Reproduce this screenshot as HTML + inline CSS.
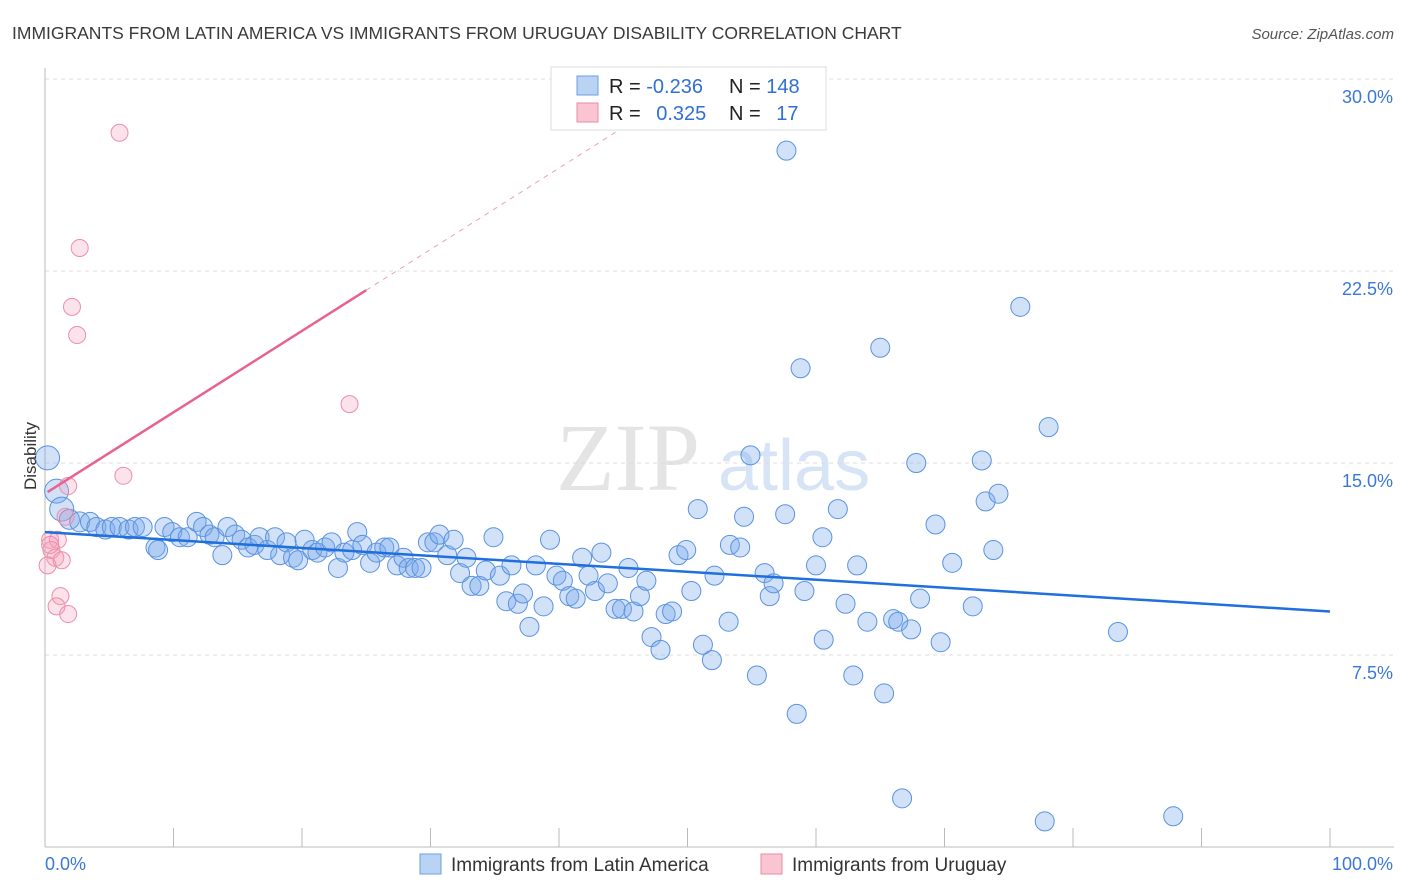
<!DOCTYPE html>
<html><head><meta charset="utf-8"><style>
body{margin:0;background:#fff;font-family:"Liberation Sans",sans-serif;}
svg{display:block}
</style></head><body>
<svg id="chart" width="1406" height="892" xmlns="http://www.w3.org/2000/svg">
<text x="12" y="39" font-size="17.5" fill="#3a3a3a">IMMIGRANTS FROM LATIN AMERICA VS IMMIGRANTS FROM URUGUAY DISABILITY CORRELATION CHART</text>
<text x="1394" y="39" font-size="15" fill="#555" font-style="italic" text-anchor="end">Source: ZipAtlas.com</text>
<text x="700" y="490" font-size="96" fill="#e4e4e4" font-family="Liberation Serif,serif" text-anchor="end">ZIP</text>
<text x="718" y="490" font-size="72" fill="#d6e4f5">atlas</text>
<g id="grid"></g><g id="axes"></g><g id="pts"></g><g id="lines"></g>
<text x="36" y="456" font-size="17" fill="#333" text-anchor="middle" transform="rotate(-90 36 456)">Disability</text>
<g>
<rect x="551" y="67" width="275" height="63" fill="#fff" stroke="#ddd"/>
<rect x="577" y="76" width="21" height="19" fill="#b9d3f5" stroke="#6a9fe0"/>
<rect x="577" y="103" width="21" height="19" fill="#f9c5d3" stroke="#e88aa5"/>
<text x="609" y="93" font-size="20" fill="#222">R = <tspan fill="#2f6fd6">-0.236</tspan></text>
<text x="729" y="93" font-size="20" fill="#222">N = <tspan fill="#2f6fd6">148</tspan></text>
<text x="609" y="120" font-size="20" fill="#222">R = <tspan fill="#2f6fd6" dx="10">0.325</tspan></text>
<text x="729" y="120" font-size="20" fill="#222">N = <tspan fill="#2f6fd6" dx="10">17</tspan></text>
</g>
<g>
<rect x="420" y="854" width="21" height="20" fill="#b9d3f5" stroke="#6a9fe0"/>
<text x="451" y="871" font-size="19" fill="#333">Immigrants from Latin America</text>
<rect x="761" y="854" width="21" height="20" fill="#f9c5d3" stroke="#e88aa5"/>
<text x="792" y="871" font-size="19" fill="#333">Immigrants from Uruguay</text>
</g>
</svg>
<script>
const blueX=[0.2,0.9,1.3,1.9,2.7,3.5,4.0,4.7,5.2,5.8,6.5,7.0,7.6,8.6,8.8,9.3,9.9,10.5,11.1,11.8,12.3,12.8,13.2,13.8,14.2,14.8,15.3,15.8,16.3,16.7,17.3,17.9,18.3,18.8,19.3,19.7,20.2,20.8,21.2,21.8,22.3,22.8,23.3,23.9,24.3,24.7,25.3,25.8,26.4,26.8,27.4,27.9,28.3,28.8,29.3,29.8,30.3,30.7,31.3,31.8,32.3,32.8,33.2,33.8,34.3,34.9,35.4,35.9,36.3,36.8,37.2,37.7,38.2,38.8,39.3,39.8,40.3,40.8,41.3,41.8,42.3,42.8,43.3,43.8,44.4,44.9,45.4,45.8,46.3,46.8,47.2,47.9,48.3,48.8,49.3,49.9,50.3,50.8,51.2,51.9,52.1,53.2,53.3,54.1,54.4,54.9,55.4,56.0,56.4,56.7,57.6,58.5,58.8,59.1,60.0,60.5,60.6,61.7,62.3,62.9,63.2,64.0,65.0,65.3,66.0,66.4,66.7,67.4,67.8,68.1,69.3,69.7,70.6,72.2,72.9,73.2,73.8,74.2,75.9,77.8,78.1,83.5,87.8,57.7];
const blueY=[15.2,13.9,13.2,12.8,12.7,12.7,12.5,12.4,12.5,12.5,12.4,12.5,12.5,11.7,11.6,12.5,12.3,12.1,12.1,12.7,12.5,12.2,12.1,11.4,12.5,12.2,12.0,11.7,11.8,12.1,11.6,12.1,11.4,11.9,11.3,11.2,12.0,11.6,11.5,11.7,11.9,10.9,11.5,11.6,12.3,11.8,11.1,11.5,11.7,11.7,11.0,11.3,10.9,10.9,10.9,11.9,11.9,12.2,11.4,12.0,10.7,11.3,10.2,10.2,10.8,12.1,10.6,9.6,11.0,9.5,9.9,8.6,11.0,9.4,12.0,10.6,10.4,9.8,9.7,11.3,10.6,10.0,11.5,10.3,9.3,9.3,10.9,9.2,9.8,10.4,8.2,7.7,9.1,9.2,11.4,11.6,10.0,13.2,7.9,7.3,10.6,8.8,11.8,11.7,12.9,15.3,6.7,10.7,9.8,10.3,13.0,5.2,18.7,10.0,11.0,12.1,8.1,13.2,9.5,6.7,11.0,8.8,19.5,6.0,8.9,8.8,1.9,8.5,15.0,9.7,12.6,8.0,11.1,9.4,15.1,13.5,11.6,13.8,21.1,1.0,16.4,8.4,1.2,27.2];
const pinkX=[5.8,2.7,2.1,2.5,23.7,6.1,1.8,1.6,0.4,1.0,0.5,0.8,0.2,1.3,1.2,0.9,1.8,0.4];
const pinkY=[27.9,23.4,21.1,20.0,17.3,14.5,14.1,12.9,12.0,12.0,11.6,11.3,11.0,11.2,9.8,9.4,9.1,11.8];
const blueTrend=[12.3,9.2];        // y at x=0 and x=100
const pinkTrend=[13.8,0.318];      // intercept, slope
const yTicks=[7.5,15,22.5,30];
const yTickLabels=["7.5%","15.0%","22.5%","30.0%"];
const xTicks=[0,10,20,30,40,50,60,70,80,90,100];
const X0=45,X1=1330,Y0=847,YPX=25.6;
function sx(v){return X0+(X1-X0)*v/100;}
function sy(v){return Y0-v*YPX;}
const NS="http://www.w3.org/2000/svg";
function mk(t,a,p){const e=document.createElementNS(NS,t);for(const k in a)e.setAttribute(k,a[k]);p.appendChild(e);return e;}
const grid=document.getElementById('grid'),axes=document.getElementById('axes'),pts=document.getElementById('pts'),lines=document.getElementById('lines');
yTicks.forEach((v,i)=>{
 const l=mk('line',{x1:X0,x2:1394,y1:sy(v),y2:sy(v),stroke:'#ddd','stroke-dasharray':'4,4'},grid);
 
 
 const t=mk('text',{x:1393,y:sy(v)+24,'font-size':18,fill:'#3a78d8','text-anchor':'end'},axes);
 t.textContent=yTickLabels[i];
 
 
});
const ya=mk('line',{x1:X0,x2:X0,y1:68,y2:Y0,stroke:'#bbb'},axes);


const xa=mk('line',{x1:X0,x2:1394,y1:Y0,y2:Y0,stroke:'#bbb'},axes);


xTicks.forEach(v=>{
 const l=mk('line',{x1:sx(v),x2:sx(v),y1:828,y2:Y0,stroke:'#bbb'},axes);
 
 
});
const xl0=mk('text',{x:45,y:870,'font-size':18,fill:'#3a78d8'},axes);xl0.textContent='0.0%';


const xl1=mk('text',{x:1393,y:870,'font-size':18,fill:'#3a78d8','text-anchor':'end'},axes);xl1.textContent='100.0%';


blueX.forEach((x,i)=>{
 const r=i<3?12:(i<5?10:9.5);
 const c=mk('circle',{cx:sx(x),cy:sy(blueY[i]),r:r,fill:'rgba(120,170,235,0.35)',stroke:'#5b93e0','stroke-width':1},pts);
 
 
});
pinkX.forEach((x,i)=>{
 const c=mk('circle',{cx:sx(x),cy:sy(pinkY[i]),r:8.5,fill:'rgba(245,160,185,0.3)',stroke:'#ec8eaa','stroke-width':1},pts);
 
 
});
const bl=mk('line',{x1:sx(0),y1:sy(blueTrend[0]),x2:sx(100),y2:sy(blueTrend[1]),stroke:'#1f6fdc','stroke-width':2.5},lines);


const pf=x=>pinkTrend[0]+pinkTrend[1]*x;
const pl=mk('line',{x1:sx(0.2),y1:sy(pf(0.2)),x2:sx(25),y2:sy(pf(25)),stroke:'#e8628e','stroke-width':2.5},lines);


const pd=mk('line',{x1:sx(25),y1:sy(pf(25)),x2:sx(45.5),y2:sy(pf(45.5)),stroke:'#eca0b8','stroke-width':1,'stroke-dasharray':'5,5'},lines);


</script>
</body></html>
